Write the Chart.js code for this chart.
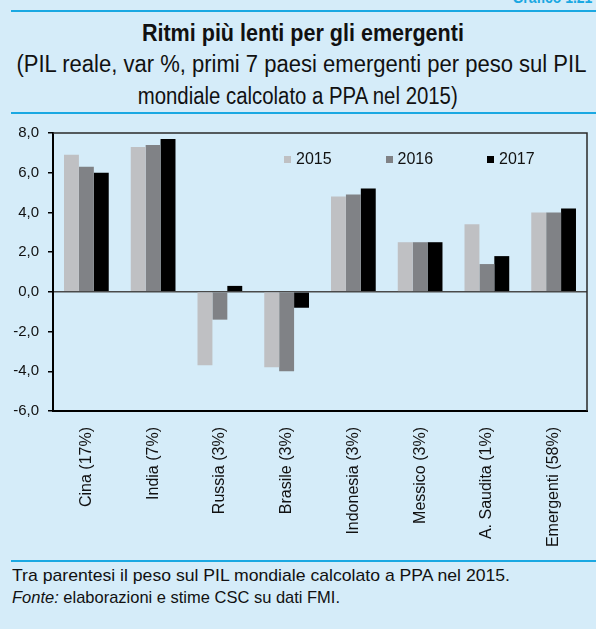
<!DOCTYPE html>
<html lang="it">
<head>
<meta charset="utf-8">
<script src="https://cdn.jsdelivr.net/npm/chart.js@4.4.1/dist/chart.umd.min.js"></script>
<style>
  html, body { margin: 0; padding: 0; }
  body { width: 596px; height: 629px; background: #d5ecf9; position: relative; overflow: hidden;
         font-family: "Liberation Sans", Arial, sans-serif; color: #111; }
  .rule { position: absolute; left: 11px; right: 0; height: 2px; background: #1aa8e2; }
  .line { position: absolute; white-space: nowrap; }
  .line span { display: inline-block; }
  .center { left: 0; width: 596px; text-align: center; }
  .center span { transform-origin: 50% 50%; }
  .foot { left: 12px; font-size: 17px; }
  .foot span { transform-origin: 0 50%; }
  #tag { position: absolute; right: 4px; top: -12px; font-weight: bold; font-size: 17px; color: #1aa8e2; }
  #title { top: 20px; left: 5px; font-size: 23px; font-weight: bold; }
  #sub1 { top: 51px; left: 3px; font-size: 23px; }
  #sub2 { top: 83px; font-size: 23px; }
  #chartBox { position: absolute; left: 0; top: 115px; width: 596px; height: 445px; }
  #legend { position: absolute; left: 284px; top: 150px; font-size: 16px; color: #111; white-space: nowrap; }
  #legend .item { display: inline-block; width: 101.5px; }
  #legend .box { display: inline-block; width: 7px; height: 7px; margin-right: 5px; vertical-align: 1px; }
</style>
</head>
<body>
<div id="tag">Grafico 1.21</div>
<div class="rule" style="top:10px"></div>
<div class="line center" id="title"><span data-w="322">Ritmi più lenti per gli emergenti</span></div>
<div class="line center" id="sub1"><span data-w="570">(PIL reale, var %, primi 7 paesi emergenti per peso sul PIL</span></div>
<div class="line center" id="sub2"><span data-w="320">mondiale calcolato a PPA nel 2015)</span></div>
<div class="rule" style="top:112px"></div>

<div id="chartBox"><canvas id="chart"></canvas></div>
<div id="legend"></div>

<div class="rule" style="top:560px"></div>
<div class="line foot" style="top:566px"><span data-w="498">Tra parentesi il peso sul PIL mondiale calcolato a PPA nel 2015.</span></div>
<div class="line foot" style="top:588px"><span data-w="328"><i>Fonte:</i> elaborazioni e stime CSC su dati FMI.</span></div>

<script>
// Paesi (peso sul PIL mondiale a PPA nel 2015)
const categories = ['Cina (17%)', 'India (7%)', 'Russia (3%)', 'Brasile (3%)',
                    'Indonesia (3%)', 'Messico (3%)', 'A. Saudita (1%)', 'Emergenti (58%)'];
const seriesNames = ['2015', '2016', '2017'];
// PIL reale, variazione %
const gdp2015 = [6.9, 7.3, -3.7, -3.8, 4.8, 2.5, 3.4, 4.0];
const gdp2016 = [6.3, 7.4, -1.4, -4.0, 4.9, 2.5, 1.4, 4.0];
const gdp2017 = [6.0, 7.7, 0.3, -0.8, 5.2, 2.5, 1.8, 4.2];
const yTicks = [-6, -4, -2, 0, 2, 4, 6, 8];

const seriesColors = ['#bfc0c3', '#808286', '#000000'];
const seriesValues = [gdp2015, gdp2016, gdp2017];

// Testi in stile "condensed": la larghezza naturale viene compressa a quella voluta
document.querySelectorAll('.line span[data-w]').forEach(el => {
  const w = el.getBoundingClientRect().width;
  el.style.transform = 'scaleX(' + (Number(el.dataset.w) / w).toFixed(4) + ')';
});
(function () {
  const tag = document.getElementById('tag');
  tag.style.transformOrigin = '100% 50%';
  tag.style.transform = 'scaleX(0.82)';
})();

const datasets = seriesNames.map((name, i) => ({
  label: name,
  data: seriesValues[i],
  backgroundColor: seriesColors[i],
  borderWidth: 0,
  categoryPercentage: 0.67,
  barPercentage: 1.0
}));

// Cornice superiore e destra dell'area del grafico
const frame = {
  id: 'frame',
  afterDraw(chart) {
    const { ctx, chartArea: a } = chart;
    ctx.save();
    ctx.strokeStyle = '#2a2a2a';
    ctx.lineWidth = 1.5;
    ctx.beginPath();
    ctx.moveTo(a.left, a.top);
    ctx.lineTo(a.right, a.top);
    ctx.lineTo(a.right, a.bottom);
    ctx.stroke();
    ctx.restore();
  }
};

const chart = new Chart(document.getElementById('chart'), {
  type: 'bar',
  data: { labels: categories, datasets },
  plugins: [frame],
  options: {
    responsive: true,
    maintainAspectRatio: false,
    animation: false,
    layout: { padding: { top: 17, right: 9, left: 0, bottom: 0 } },
    plugins: { legend: { display: false }, tooltip: { enabled: false } },
    scales: {
      x: {
        grid: { display: false, drawTicks: false },
        border: { display: true, color: '#000', width: 2 },
        ticks: {
          color: '#111', minRotation: 90, maxRotation: 90, padding: 16,
          font: { family: '"Liberation Sans", Arial, sans-serif', size: 16 }
        },
        afterFit(scale) { scale.height = 149; }
      },
      y: {
        min: -6, max: 8,
        afterBuildTicks(scale) { scale.ticks = yTicks.map(v => ({ value: v })); },
        grid: {
          color: c => (c.tick && c.tick.value === 0 ? '#4a4a4a' : 'rgba(0,0,0,0)'),
          lineWidth: 1.5,
          tickColor: '#000', tickLength: 5, tickWidth: 1.5
        },
        border: { display: true, color: '#000', width: 2 },
        ticks: {
          color: '#111', padding: 9,
          font: { family: '"Liberation Sans", Arial, sans-serif', size: 15 },
          callback: v => v.toFixed(1).replace('.', ',')
        },
        afterFit(scale) { scale.width = 53; }
      }
    }
  }
});

// Legenda costruita dai dataset
const legend = document.getElementById('legend');
chart.data.datasets.forEach(ds => {
  const item = document.createElement('span');
  item.className = 'item';
  const box = document.createElement('span');
  box.className = 'box';
  box.style.background = ds.backgroundColor;
  item.appendChild(box);
  item.appendChild(document.createTextNode(ds.label));
  legend.appendChild(item);
});
</script>
</body>
</html>
